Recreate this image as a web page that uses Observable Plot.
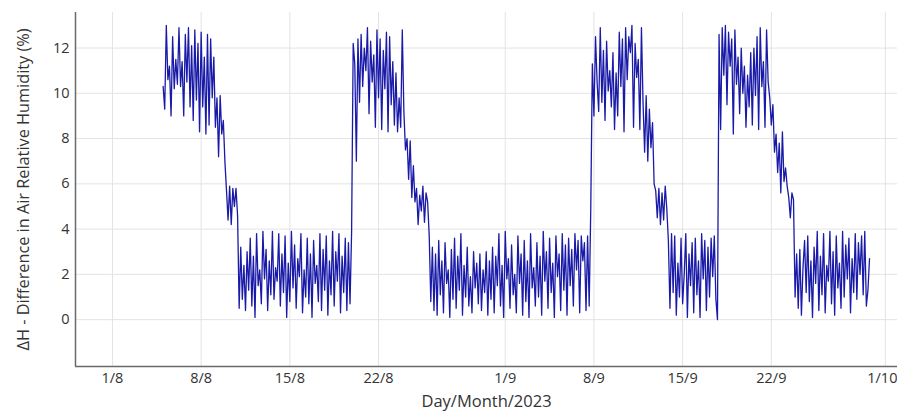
<!DOCTYPE html>
<html>
<head>
<meta charset="utf-8">
<script src="https://cdn.jsdelivr.net/npm/d3@7"></script>
<script src="https://cdn.jsdelivr.net/npm/@observablehq/plot@0.6"></script>
<style>
  html, body { margin: 0; padding: 0; background: #fff; }
  #chart svg { display: block; }
</style>
</head>
<body>
<div id="chart"></div>
<script>
// ---- Data ----
// Sampling: one value every 3 hours starting 2023-08-05 00:00
const seriesStart = "2023-08-05T00:00:00Z";
const stepHours = 3;

const high1 = [10.3, 9.3, 13.0, 10.6, 11.2, 9.0, 12.5, 10.2, 11.5, 10.4, 12.9, 10.3, 11.4, 9.0, 12.6, 10.5, 12.9, 9.4, 12.1, 8.8, 12.8, 9.7, 12.2, 8.3, 12.7, 9.4, 11.6, 8.2, 12.6, 8.6, 12.4, 9.8];
const step1 = [11.6, 8.5, 9.8, 7.2, 9.9, 8.2, 8.8, 7.0];
const plateau1 = [5.7, 4.4, 5.9, 4.2, 5.8, 5.0, 5.8, 4.6];
const low1 = [0.5, 3.2, 0.9, 2.4, 0.4, 3.0, 1.3, 3.6, 0.6, 2.8,
  0.1, 3.8, 1.5, 2.2, 0.7, 3.9, 1.8, 3.1, 0.4, 2.6,
  1.1, 3.9, 0.9, 2.3, 1.7, 3.8, 0.6, 2.9, 1.2, 3.7,
  0.1, 2.5, 0.8, 3.9, 1.4, 3.3, 0.5, 2.7, 1.9, 3.8,
  0.3, 2.2, 1.0, 3.6, 0.7, 2.9, 0.1, 3.5, 1.6, 2.4,
  0.8, 3.8, 0.4, 3.1, 1.3, 3.7, 0.2, 2.6, 1.1, 3.9,
  0.6, 3.0, 1.7, 3.8, 0.3, 2.8, 1.2, 3.6, 0.4, 3.4,
  0.7, 3.9];
const high2 = [12.2, 11.3, 7.0, 12.4, 9.6, 12.6, 10.3, 12.0, 11.0, 12.9,
  9.1, 12.3, 10.5, 11.7, 8.5, 12.8, 9.8, 12.4, 8.4, 11.9,
  10.2, 12.7, 8.3, 12.5, 9.5, 11.4, 8.6, 10.9, 8.3, 9.8,
  8.5, 12.8];
const step2 = [9.2, 7.5, 8.0, 6.2, 7.9, 5.4, 6.8, 5.2];
const plateau2 = [5.8, 4.2, 5.5, 4.8, 5.9, 4.3, 5.6, 5.2];
const low2 = [3.7, 0.8, 3.2, 0.4, 2.9, 0.2, 3.5, 1.1, 2.6, 0.3,
  3.4, 1.6, 2.2, 0.1, 3.1, 0.9, 3.6, 0.5, 2.8, 1.3,
  3.8, 0.2, 2.4, 1.0, 3.2, 0.6, 1.9, 0.3, 3.0, 1.4,
  2.5, 0.7, 2.9, 0.4, 2.2, 1.2, 3.0, 0.2, 2.6, 0.9,
  3.2, 0.3, 2.8, 1.5, 3.8, 0.6, 2.4, 0.1, 3.9, 1.8,
  2.7, 0.5, 3.3, 1.1, 2.0, 0.3, 3.7, 1.6, 2.9, 0.2,
  3.5, 0.8, 2.6, 0.1, 3.8, 1.4, 2.3, 0.6, 3.4, 1.0,
  2.8, 0.2, 3.9, 1.7, 3.0, 0.5, 3.6, 1.2, 2.5, 0.1,
  3.7, 1.9, 2.9, 0.4, 3.8, 1.3, 3.3, 0.2, 3.6, 1.5,
  3.1, 0.6, 3.8, 2.2, 3.5, 0.3, 3.7, 2.6, 3.4, 0.4,
  3.7, 0.6, 4.9];
const high3 = [11.3, 9.0, 12.5, 10.5, 9.2, 12.9, 9.6, 11.9, 8.8, 12.3,
  10.1, 11.0, 9.4, 11.8, 8.4, 10.9, 9.0, 12.7, 10.3, 12.4,
  8.3, 12.9, 10.6, 12.5, 11.8, 13.0, 8.5, 12.2, 10.7, 11.5,
  8.4, 12.9];
const step3 = [9.6, 7.4, 9.9, 7.0, 9.3, 7.6, 8.7];
const plateau3 = [6.0, 5.7, 4.5, 5.8, 4.2, 5.6, 4.4, 5.9, 4.9];
const low3 = [3.5, 0.5, 3.8, 1.2, 3.7, 0.2, 2.5, 1.0, 3.6, 0.7,
  2.0, 3.8, 0.1, 2.9, 1.5, 3.4, 0.3, 3.6, 1.1, 2.6,
  0.1, 3.8, 1.8, 3.5, 0.4, 3.2, 1.0, 3.6, 1.9, 3.7,
  0.9, 0.0];
const high4 = [12.6, 8.4, 12.9, 10.8, 13.0, 9.5, 12.7, 11.2, 12.4, 8.2,
  12.8, 10.4, 11.6, 9.1, 12.0, 10.0, 11.2, 8.5, 10.8, 9.4,
  11.8, 8.6, 12.0, 9.9, 12.5, 8.4, 12.9, 10.3, 11.4, 8.5,
  12.8, 10.5];
const step4 = [9.8, 8.6, 9.5, 7.4, 8.2, 6.5, 7.8, 5.6, 8.3, 6.1, 6.7];
const plateau4 = [5.9, 5.4, 4.5, 5.6, 5.3];
const low4 = [1.0, 2.9, 0.5, 3.1, 0.2, 2.3, 3.5, 1.2, 3.7, 0.8,
  2.6, 0.1, 3.2, 1.6, 3.9, 0.4, 2.8, 1.1, 3.8, 0.3,
  2.4, 1.7, 3.9, 0.7, 3.0, 0.2, 3.7, 1.4, 2.5, 0.5,
  3.9, 1.0, 3.3, 1.8, 3.6, 0.3, 2.7, 1.2, 3.8, 0.9,
  3.4, 2.0, 3.7, 1.1, 3.9, 0.6, 1.3, 2.7];

// Axis ticks and labels
const xTickDates = ["2023-08-01", "2023-08-08", "2023-08-15", "2023-08-22", "2023-09-01", "2023-09-08", "2023-09-15", "2023-09-22", "2023-10-01"];
const xTickLabels = ["1/8", "8/8", "15/8", "22/8", "1/9", "8/9", "15/9", "22/9", "1/10"];
const yTicks = [0, 2, 4, 6, 8, 10, 12];
const xDomain = ["2023-07-29T02:00:00Z", "2023-10-01T23:00:00Z"];
const yDomain = [-2.07, 13.57];
const yLabel = "ΔH - Difference in Air Relative Humidity (%)";
const xLabel = "Day/Month/2023";

// ---- Build table ----
const allValues = [].concat(high1, step1, plateau1, low1, high2, step2, plateau2, low2,
  high3, step3, plateau3, low3, high4, step4, plateau4, low4);
const t0 = new Date(seriesStart).getTime();
const data = allValues.map((v, i) => ({t: new Date(t0 + i * stepHours * 3600e3), v}));
const tickDates = xTickDates.map(s => new Date(s + "T00:00:00Z"));
const labelFor = new Map(tickDates.map((d, i) => [+d, xTickLabels[i]]));
const xd = xDomain.map(s => new Date(s));
const innerTicks = tickDates.slice(0, -1);
const lastTick = tickDates.slice(-1);

const chart = Plot.plot({
  width: 897,
  height: 414,
  marginLeft: 75,
  marginRight: 0,
  marginTop: 12,
  marginBottom: 48,
  style: {fontFamily: "'Open Sans', sans-serif", fontSize: "14.5px", color: "#333", background: "#fff"},
  x: {type: "utc", domain: xd},
  y: {domain: yDomain},
  marks: [
    Plot.gridX(tickDates, {stroke: "#e3e3e3", strokeOpacity: 1, strokeWidth: 1}),
    Plot.gridY(yTicks, {stroke: "#e3e3e3", strokeOpacity: 1, strokeWidth: 1}),
    Plot.lineY(data, {x: "t", y: "v", stroke: "#1a1aa8", strokeWidth: 1.3, curve: "linear"}),
    Plot.axisX(innerTicks, {tickSize: 0, tickPadding: 6, tickFormat: d => labelFor.get(+d), label: null, fill: "#333", fontSize: 14.5}),
    Plot.axisX(lastTick, {tickSize: 0, tickPadding: 6, tickFormat: d => labelFor.get(+d), label: null, fill: "#333", fontSize: 14.5, dx: -3}),
    Plot.axisY(yTicks, {tickSize: 0, tickPadding: 6, label: null, fill: "#333", fontSize: 14.5}),
    Plot.ruleX([xd[0]], {y1: yDomain[0], y2: yDomain[1], stroke: "#6a6a6a", strokeWidth: 1.5}),
    Plot.ruleY([yDomain[0]], {stroke: "#6a6a6a", strokeWidth: 1.5}),
    Plot.text([yLabel], {frameAnchor: "left", dx: -52, rotate: -90, textAnchor: "middle", fontSize: 16.3, fill: "#333"}),
    Plot.text([xLabel], {frameAnchor: "bottom", dy: 40, textAnchor: "middle", fontSize: 16.5, fill: "#333"})
  ]
});
document.getElementById("chart").append(chart);
</script>
</body>
</html>
